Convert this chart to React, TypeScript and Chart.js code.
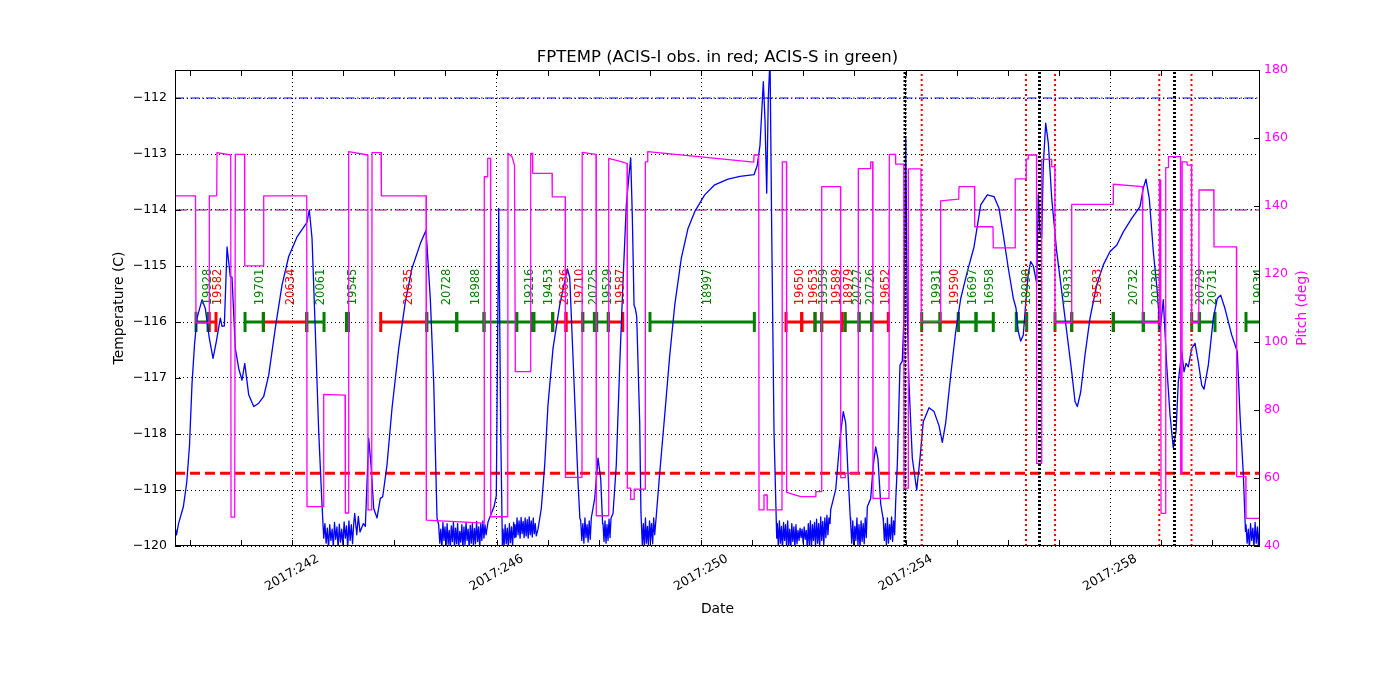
import React, { useEffect, useRef } from "react";
import { Chart, registerables } from "chart.js";
Chart.register(...registerables);

const FONT = '"DejaVu Sans", sans-serif';
const TITLE = "FPTEMP (ACIS-I obs. in red; ACIS-S in green)";
const YEAR = "2017";
const X_MIN = 239.711;
const X_MAX = 260.934;
const MAJOR_DAYS = [242, 246, 250, 254, 258];
const TEMP_MIN = -120;
const TEMP_MAX = -111.5;
const PITCH_MIN = 40;
const PITCH_MAX = 180;

const BLUE = "#0000ff";
const MAGENTA = "#ff00ff";
const RED = "#ff0000";
const GREEN = "#008000";
const PURPLE = "#800080";

// smooth part of FPTEMP (day of year, deg C)
const tempTimes = [
  239.711, 239.741, 239.78, 239.874, 239.94, 239.995, 240.044, 240.093, 240.142, 240.24, 240.304, 240.382,
  240.455, 240.519, 240.598, 240.631, 240.676, 240.729, 240.793, 240.826, 240.891, 240.957, 241.022, 241.075,
  241.153, 241.251, 241.349, 241.446, 241.544, 241.673, 241.804, 241.935, 242.098, 242.293, 242.338, 242.391,
  242.456, 242.522, 242.587,
  243.226, 243.266, 243.297, 243.33, 243.395, 243.434, 243.5, 243.545, 243.598, 243.663, 243.727, 243.774,
  243.858, 243.956, 244.087, 244.216, 244.347, 244.51, 244.621, 244.705, 244.772, 244.836,
  245.834, 245.898, 245.951, 245.996, 246.043, 246.082, 246.115,
  246.812, 246.876, 246.943, 247.007, 247.105, 247.236, 247.334, 247.385, 247.432, 247.516, 247.594, 247.63,
  247.921, 247.985, 248.038, 248.075,
  248.279, 248.343, 248.41, 248.474, 248.539, 248.586, 248.625, 248.656, 248.69, 248.715, 248.742, 248.801, 248.825,
  249.126, 249.192, 249.29, 249.388, 249.486, 249.615, 249.746, 249.877, 250.072, 250.268, 250.528, 250.763,
  251.037, 251.101, 251.154, 251.219, 251.252, 251.285, 251.316, 251.35, 251.383, 251.428, 251.481,
  252.537, 252.635, 252.719, 252.783, 252.83, 252.875, 252.92,
  253.319, 253.37, 253.417, 253.462, 253.515, 253.56,
  253.84, 253.892, 253.937, 253.971, 254.004, 254.035, 254.068, 254.133, 254.219, 254.284, 254.348, 254.46,
  254.558, 254.655, 254.72, 254.786, 254.884, 254.982, 255.08, 255.209, 255.34, 255.471, 255.6, 255.731,
  255.829, 255.913, 256.011, 256.109, 256.161, 256.206, 256.253, 256.304, 256.357, 256.402, 256.449, 256.5,
  256.566, 256.598, 256.631, 256.664, 256.695, 256.742, 256.793, 256.86, 256.957, 257.055, 257.153, 257.251,
  257.316, 257.361, 257.427, 257.511, 257.609, 257.74, 257.869, 258.0, 258.131, 258.26, 258.425, 258.587,
  258.651, 258.704, 258.769, 258.847, 258.925, 258.978, 259.043, 259.109, 259.174, 259.238, 259.291, 259.336,
  259.403, 259.448, 259.487, 259.532, 259.598, 259.663, 259.727, 259.794, 259.839, 259.923, 260.021, 260.099,
  260.165, 260.249, 260.38, 260.49, 260.543, 260.607, 260.65,
];
const tempValues = [
  -119.65, -119.8, -119.6, -119.3, -118.87, -118.2, -117.1, -116.4, -115.93, -115.6, -115.76, -116.29,
  -116.65, -116.35, -115.93, -116.08, -116.07, -114.66, -115.19, -115.2, -116.47, -116.83, -117.04, -116.74,
  -117.3, -117.51, -117.45, -117.33, -116.95, -116.11, -115.34, -114.83, -114.48, -114.22, -114.0, -114.5,
  -116.17, -117.96, -119.27,
  -119.42, -119.8, -119.47, -119.75, -119.6, -119.65, -118.08, -118.55, -119.33, -119.5, -119.15, -119.12,
  -118.55, -117.54, -116.47, -115.64, -115.04, -114.6, -114.36, -115.58, -117.1, -119.5,
  -119.57, -119.42, -119.3, -119.1, -113.97, -117.96, -119.98,
  -119.7, -119.33, -118.55, -117.48, -116.47, -115.7, -115.28, -115.05, -115.2, -117.07, -118.85, -119.5,
  -119.15, -118.43, -118.8, -119.6,
  -119.42, -118.55, -116.77, -115.28, -113.91, -113.43, -113.07, -114.1, -115.7, -115.76, -115.9, -117.8, -119.4,
  -119.45, -118.7, -117.66, -116.6, -115.7, -114.86, -114.33, -114.03, -113.73, -113.55, -113.45, -113.4,
  -113.37, -113.2, -112.84, -111.71, -112.4, -113.7, -112.0, -111.3, -114.39, -117.96, -119.86,
  -119.35, -118.99, -118.08, -117.6, -117.8, -118.7, -119.5,
  -119.15, -118.55, -118.23, -118.45, -119.25, -119.5,
  -118.55, -116.77, -116.7, -115.9, -112.69, -115.9, -117.1, -118.43, -119.0, -118.43, -117.78, -117.53,
  -117.6, -117.85, -118.15, -117.8, -116.95, -116.17, -115.58, -115.1, -114.66, -113.91, -113.73, -113.76,
  -113.97, -114.45, -115.04, -115.58, -115.75, -116.17, -116.34, -116.23, -115.6, -115.13, -114.92, -115.0,
  -115.3, -113.73, -114.4, -114.5, -113.2, -112.45, -112.8, -113.79, -114.74, -115.45, -116.17, -116.89,
  -117.42, -117.51, -117.25, -116.59, -115.93, -115.34, -114.98, -114.74, -114.63, -114.39, -114.15, -113.94,
  -113.61, -113.45, -113.8, -114.74, -115.46, -116.17, -115.6, -116.77, -117.66, -118.25, -117.96, -117.07,
  -116.53, -116.89, -116.74, -116.8, -116.47, -116.38, -116.71, -117.13, -117.2, -116.77, -115.93, -115.58,
  -115.52, -115.76, -116.23, -116.53, -117.66, -118.7, -119.74,
];

// noisy stretches near the cold limit (start day, end day) and their samples
const noiseSpans = [
  [242.62, 243.207], [244.869, 245.795], [246.127, 246.356], [246.362, 246.778], [247.647, 247.854],
  [248.083, 248.24], [248.832, 249.094], [251.493, 252.523], [252.928, 253.253], [253.566, 253.808],
  [260.66, 260.95],
];
const noise1 = [-119.86, -119.6, -119.95, -119.68, -120.05, -119.62, -119.9, -119.7, -120.02, -119.58, -119.88, -119.66, -120.04, -119.61, -119.93, -119.7, -119.99, -119.57, -119.86, -119.64, -120.03, -119.55, -119.9, -119.62, -119.96, -119.6];
const noise2 = [-119.62, -119.95, -119.7, -120.05, -119.58, -119.9, -119.66, -120.02, -119.6, -119.97, -119.72, -120.05, -119.64, -119.92, -119.57, -120.03, -119.68, -119.96, -119.6, -120.05, -119.74, -119.93, -119.62, -120.04, -119.66, -119.98, -119.58, -119.9, -119.7, -120.05, -119.63, -119.95, -119.6, -120.02, -119.69, -119.96, -119.56, -119.92, -119.66, -120.04, -119.6, -119.9, -119.55, -119.86, -119.62, -119.8];
const noise3 = [-119.7, -120.02, -119.62, -119.96, -119.68, -120.05, -119.6, -119.94, -119.66, -120.0, -119.58, -119.85];
const noise4 = [-119.62, -119.84, -119.5, -119.8, -119.55, -119.86, -119.49, -119.78, -119.56, -119.85, -119.5, -119.82, -119.53, -119.86, -119.48, -119.8, -119.55, -119.84, -119.5, -119.78, -119.6, -119.82];
const noise5 = [-119.55, -119.9, -119.6, -119.95, -119.5, -119.85, -119.62, -119.93, -119.55, -119.88, -119.5];
const noise6 = [-119.6, -119.92, -119.55, -119.95, -119.62, -119.9, -119.52, -119.85, -119.5];
const noise7 = [-119.55, -119.98, -119.6, -120.05, -119.5, -119.95, -119.65, -120.02, -119.55, -119.9, -119.6, -119.96, -119.5, -119.8];
const noise8 = [-119.6, -120.02, -119.55, -119.95, -119.65, -120.05, -119.58, -119.9, -119.62, -120.04, -119.55, -119.98, -119.7, -120.05, -119.6, -119.92, -119.66, -120.03, -119.62, -119.96, -119.72, -119.9, -119.68, -119.85, -119.7, -119.95, -119.66, -119.88, -119.72, -120.04, -119.6, -119.98, -119.55, -120.05, -119.62, -119.9, -119.58, -120.02, -119.52, -119.95, -119.6, -120.04, -119.48, -119.9, -119.56, -119.98, -119.5, -119.85, -119.45, -119.8, -119.5, -119.6];
const noise9 = [-119.6, -119.95, -119.55, -120.02, -119.65, -119.9, -119.5, -119.98, -119.62, -120.04, -119.55, -119.92, -119.6, -119.96, -119.5, -119.85, -119.3];
const noise10 = [-119.55, -119.9, -119.6, -120.0, -119.5, -119.95, -119.62, -119.88, -119.48, -119.92, -119.55, -119.8, -119.2];
const noise11 = [-119.62, -119.95, -119.7, -120.05, -119.6, -119.9, -119.68, -120.02, -119.58, -119.95, -119.66, -120.05, -119.6, -119.9];
const noiseSets = [noise1, noise2, noise3, noise4, noise5, noise6, noise7, noise8, noise9, noise10, noise11];

// pitch (deg)
const pitchTimes = [
  239.711, 240.112, 240.122, 240.377, 240.382, 240.527, 240.533, 240.801, 240.807, 240.879, 240.891, 241.071,
  241.075, 241.443, 241.446, 242.288, 242.293, 242.616, 242.62, 243.037, 243.043, 243.105, 243.109, 243.483,
  243.487, 243.559, 243.565, 243.741, 243.747, 244.621, 244.627, 245.756, 245.761, 245.824, 245.828, 245.883,
  245.887, 246.219, 246.225, 246.303, 246.352, 246.368, 246.665, 246.669, 246.704, 246.708, 247.086, 247.09,
  247.344, 247.348, 247.672, 247.676, 247.946, 247.952, 248.191, 248.195, 248.455, 248.553, 248.559, 248.621,
  248.625, 248.69, 248.693, 248.905, 248.911, 248.954, 248.958, 251.031, 251.037, 251.129, 251.135, 251.228,
  251.232, 251.291, 251.295, 251.584, 251.59, 251.672, 251.676, 251.95, 252.244, 252.247, 252.357, 252.361,
  252.729, 252.733, 252.817, 252.821, 253.071, 253.077, 253.315, 253.319, 253.358, 253.364, 253.677, 253.683,
  253.804, 253.808, 253.967, 253.971, 254.049, 254.055, 254.303, 254.309, 254.685, 254.688, 255.041, 255.047,
  255.35, 255.354, 255.711, 255.717, 256.142, 256.146, 256.357, 256.361, 256.396, 256.402, 256.562, 256.566,
  256.66, 256.664, 256.856, 256.86, 256.92, 256.924, 257.247, 257.251, 258.059, 258.065, 258.636, 258.64,
  258.964, 258.968, 258.992, 258.998, 259.086, 259.09, 259.14, 259.144, 259.379, 259.383, 259.408, 259.412,
  259.506, 259.512, 259.594, 259.598, 259.737, 259.741, 260.03, 260.034, 260.474, 260.478, 260.656, 260.66,
  260.934,
];
const pitchValues = [
  143, 143, 105.6, 105.6, 143, 143, 155.7, 155, 48.5, 48.5, 155.2, 155.2,
  122.4, 122.4, 143, 143, 51.6, 51.6, 84.6, 84.4, 49.7, 49.7, 156, 155,
  50.6, 50.6, 155.7, 155.7, 143, 143, 47.6, 46.7, 148.6, 148.6, 154, 154,
  48.6, 48.6, 155.5, 154.5, 152, 91.3, 91.3, 155.5, 155.5, 149.6, 149.6, 142.7,
  142.7, 60.2, 60.2, 155.8, 155.2, 48.9, 48.9, 154, 153, 152.5, 57, 57,
  53.7, 53.7, 56.7, 56.7, 153, 153, 156, 152.9, 155, 155, 50.6, 50.6,
  55, 55, 50.6, 50.6, 153, 153, 55.8, 54.5, 54.5, 56, 56, 145.7,
  145.7, 60.1, 60.1, 61.4, 61.4, 151, 151, 153, 153, 54, 54, 155.2,
  155.2, 152.3, 152.3, 57, 57, 150.9, 150.9, 106, 106, 141.5, 142, 145.7,
  145.7, 133.9, 133.9, 127.7, 127.7, 148, 148, 153.8, 153.8, 155, 155, 64.3,
  64.3, 153.7, 153.7, 151.6, 151.6, 105.8, 105.8, 140.5, 140.5, 146.4, 145.7, 105.8,
  105.8, 147.6, 147.6, 49.6, 49.6, 151.3, 151.3, 154.5, 154.5, 61.4, 61.4, 153,
  153, 152, 152, 105.8, 105.8, 144.7, 144.7, 128, 128, 60.4, 60.4, 48.1,
  48.1,
];

// observations
const obsIds = ["19928", "19582", "19701", "20634", "20061", "19545", "20635", "20728", "18988", "", "19216", "19453", "20636", "19710", "20725", "19529", "19587", "18997", "19650", "19653", "19359", "19589", "18979", "20727", "20726", "19652", "19931", "19590", "16697", "16958", "18998", "19933", "19583", "20732", "20730", "20729", "20731", "19034"];
const obsInstr = ["S", "I", "S", "I", "S", "S", "I", "S", "S", "S", "S", "S", "I", "I", "S", "S", "I", "S", "I", "I", "S", "I", "I", "S", "S", "I", "S", "I", "S", "S", "S", "S", "I", "S", "S", "S", "S", "S"];
const obsStart = [240.122, 240.382, 241.081, 241.439, 242.288, 243.066, 243.735, 244.635, 245.222, 245.756, 246.395, 246.733, 247.099, 247.359, 247.686, 247.96, 248.187, 249.002, 251.663, 251.97, 252.23, 252.361, 252.752, 252.817, 253.091, 253.339, 254.317, 254.675, 255.033, 255.379, 256.167, 256.924, 257.251, 258.065, 258.651, 259.598, 259.747, 260.66];
const obsStop = [240.357, 240.513, 241.439, 242.288, 242.626, 243.105, 244.635, 245.222, 245.756, 246.395, 246.689, 247.099, 247.359, 247.686, 247.913, 248.187, 248.469, 251.043, 251.97, 252.23, 252.361, 252.752, 252.817, 253.091, 253.339, 253.664, 254.675, 255.033, 255.379, 255.717, 256.371, 257.251, 258.065, 258.651, 258.964, 259.747, 260.054, 261.3];

const radZoneTimes = [254.317, 256.357, 256.924, 258.964, 259.594];
const perigeeTimes = [253.99, 256.621, 259.262];

const PLANNING_LIMIT = -118.7;
const UPPER_LIMIT = -112;
const MID_LIMIT = -114;
const OBS_LEVEL = -116;
const OBS_LABEL_LEVEL = -115.7;

type P = { x: number; y: number | null };

function buildTemp(): P[] {
  const pts: P[] = tempTimes.map((t, i) => ({ x: t, y: tempValues[i] }));
  noiseSpans.forEach(([s, e], k) => {
    const vals = noiseSets[k];
    const n = vals.length;
    vals.forEach((v, i) => pts.push({ x: s + ((e - s) * i) / (n - 1), y: v }));
  });
  pts.sort((a, b) => a.x - b.x);
  return pts;
}

function buildObs(instr: string): P[] {
  const pts: P[] = [];
  obsIds.forEach((_, i) => {
    if (obsInstr[i] !== instr) return;
    pts.push({ x: obsStart[i], y: OBS_LEVEL }, { x: obsStop[i], y: OBS_LEVEL }, { x: obsStop[i], y: null });
  });
  return pts;
}

function buildVerticals(times: number[]): P[] {
  const pts: P[] = [];
  times.forEach((t) => pts.push({ x: t, y: TEMP_MIN }, { x: t, y: TEMP_MAX }, { x: t, y: null }));
  return pts;
}

const minus = (v: number) => (v < 0 ? "\u2212" + Math.abs(v) : String(v));
const TEMP_INDEX = 2;

const decorPlugin = {
  id: "decor",
  afterDatasetDraw(chart: any, args: any) {
    if (args.index !== TEMP_INDEX) return;
    const { ctx, chartArea: a, scales } = chart;
    const xs = scales.x;
    const yT = scales.y;
    ctx.save();
    ctx.beginPath();
    ctx.rect(a.left, a.top, a.right - a.left, a.bottom - a.top);
    ctx.clip();
    ctx.font = `11.5px ${FONT}`;
    ctx.textAlign = "left";
    ctx.textBaseline = "top";
    const yl = yT.getPixelForValue(OBS_LABEL_LEVEL);
    obsIds.forEach((id, i) => {
      if (!id) return;
      const s = Math.max(obsStart[i], X_MIN);
      const e = Math.min(obsStop[i], X_MAX);
      const xm = xs.getPixelForValue((s + e) / 2);
      ctx.save();
      ctx.translate(xm, yl);
      ctx.rotate(-Math.PI / 2);
      ctx.fillStyle = obsInstr[i] === "I" ? RED : GREEN;
      ctx.fillText(id, 0, 0);
      ctx.restore();
    });
    ctx.restore();
  },
  afterDraw(chart: any) {
    const { ctx, chartArea: a, scales } = chart;
    const xs = scales.x;
    const yT = scales.y;
    const yP = scales.yP;
    ctx.save();
    ctx.strokeStyle = "#000";
    ctx.lineWidth = 1;
    ctx.setLineDash([]);
    ctx.strokeRect(a.left + 0.5, a.top + 0.5, a.right - a.left - 1, a.bottom - a.top - 1);
    const TL = 6;
    ctx.beginPath();
    for (let d = Math.ceil(X_MIN); d <= Math.floor(X_MAX); d++) {
      const px = Math.round(xs.getPixelForValue(d)) + 0.5;
      ctx.moveTo(px, a.bottom);
      ctx.lineTo(px, a.bottom - TL);
      ctx.moveTo(px, a.top);
      ctx.lineTo(px, a.top + TL);
    }
    for (let v = TEMP_MIN; v <= -112; v += 1) {
      const py = Math.round(yT.getPixelForValue(v)) + 0.5;
      ctx.moveTo(a.left, py);
      ctx.lineTo(a.left + TL, py);
    }
    ctx.stroke();
    ctx.strokeStyle = "#000";
    ctx.beginPath();
    for (let v = PITCH_MIN; v <= PITCH_MAX; v += 20) {
      const py = Math.round(yP.getPixelForValue(v)) + 0.5;
      ctx.moveTo(a.right, py);
      ctx.lineTo(a.right - TL, py);
    }
    ctx.stroke();

    // x tick labels
    ctx.fillStyle = "#000";
    ctx.font = `12.5px ${FONT}`;
    ctx.textAlign = "center";
    ctx.textBaseline = "middle";
    MAJOR_DAYS.forEach((d) => {
      const px = xs.getPixelForValue(d);
      ctx.save();
      ctx.translate(px, a.bottom + 27);
      ctx.rotate(-Math.PI / 6);
      ctx.fillText(`${YEAR}:${d}`, 0, 0);
      ctx.restore();
    });

    // title
    ctx.font = `16.5px ${FONT}`;
    ctx.textBaseline = "alphabetic";
    ctx.fillText(TITLE, (a.left + a.right) / 2, a.top - 8);

    // axis titles
    ctx.font = `13.9px ${FONT}`;
    ctx.textBaseline = "middle";
    ctx.fillText("Date", (a.left + a.right) / 2, a.bottom + 63);
    const cy = (a.top + a.bottom) / 2;
    ctx.save();
    ctx.translate(a.left - 56, cy);
    ctx.rotate(-Math.PI / 2);
    ctx.fillText("Temperature (C)", 0, 0);
    ctx.restore();
    ctx.save();
    ctx.translate(a.right + 42, cy);
    ctx.rotate(-Math.PI / 2);
    ctx.fillStyle = MAGENTA;
    ctx.fillText("Pitch (deg)", 0, 0);
    ctx.restore();
    ctx.restore();
  },
};

export default function App() {
  const ref = useRef<HTMLCanvasElement | null>(null);
  useEffect(() => {
    if (!ref.current) return;
    const flat = (v: number) => [{ x: X_MIN, y: v }, { x: X_MAX, y: v }];
    const chart = new Chart(ref.current, {
      type: "line",
      data: {
        datasets: [
          {
            label: "pitch", data: pitchTimes.map((t, i) => ({ x: t, y: pitchValues[i] })), yAxisID: "yP",
            borderColor: MAGENTA, borderWidth: 1.3, pointRadius: 0, borderJoinStyle: "round", order: 0,
          } as any,
          {
            label: "verticals-black", data: buildVerticals(perigeeTimes), yAxisID: "y",
            borderColor: "#000", borderWidth: 3, borderDash: [2, 2], pointRadius: 0, order: 1,
          },
          {
            label: "fptemp", data: buildTemp(), yAxisID: "y",
            borderColor: BLUE, borderWidth: 1.3, pointRadius: 0, borderJoinStyle: "round", order: 2,
          } as any,
          {
            label: "verticals-red", data: buildVerticals(radZoneTimes), yAxisID: "y",
            borderColor: RED, borderWidth: 2, borderDash: [2, 3], pointRadius: 0, order: 1,
          },
          {
            label: "planning", data: flat(PLANNING_LIMIT), yAxisID: "y",
            borderColor: RED, borderWidth: 3, borderDash: [10, 5], pointRadius: 0, order: 3,
          },
          {
            label: "upper", data: flat(UPPER_LIMIT), yAxisID: "y",
            borderColor: BLUE, borderWidth: 1, borderDash: [9, 2.5, 1.5, 2.5], pointRadius: 0, order: 3,
          },
          {
            label: "mid", data: flat(MID_LIMIT), yAxisID: "y",
            borderColor: PURPLE, borderWidth: 1.2, borderDash: [12, 3, 2, 3], pointRadius: 0, order: 3,
          },
          {
            label: "obs-S", data: buildObs("S"), yAxisID: "y",
            borderColor: GREEN, borderWidth: 3, pointStyle: "line", pointRotation: 90, pointRadius: 10,
            pointBorderWidth: 3, pointBorderColor: GREEN, pointBackgroundColor: GREEN, order: 4,
          } as any,
          {
            label: "obs-I", data: buildObs("I"), yAxisID: "y",
            borderColor: RED, borderWidth: 3, pointStyle: "line", pointRotation: 90, pointRadius: 10,
            pointBorderWidth: 3, pointBorderColor: RED, pointBackgroundColor: RED, order: 4,
          } as any,
        ],
      },
      options: {
        responsive: false,
        animation: false,
        devicePixelRatio: 1,
        events: [],
        layout: { padding: { top: 70, left: 0, right: 0, bottom: 0 } },
        plugins: { legend: { display: false }, tooltip: { enabled: false }, title: { display: false } },
        scales: {
          x: {
            type: "linear", min: X_MIN, max: X_MAX,
            ticks: { stepSize: 1, display: false, includeBounds: false, autoSkip: false },
            grid: {
              drawTicks: false, lineWidth: 1,
              color: (c: any) => {
                const v = c.tick ? c.tick.value : NaN;
                return MAJOR_DAYS.some((d) => Math.abs(d - v) < 1e-6) ? "#000" : "rgba(0,0,0,0)";
              },
            },
            border: { display: false, dash: [1, 3] },
            afterFit: (s: any) => { s.height = 154; },
          },
          y: {
            type: "linear", position: "left", min: TEMP_MIN, max: TEMP_MAX,
            ticks: { stepSize: 1, includeBounds: false, color: "#000", padding: 8, font: { family: FONT, size: 12.5 }, callback: (v: any) => minus(Number(v)) },
            grid: { drawTicks: false, color: "#000", lineWidth: 1 },
            border: { display: false, dash: [1, 3] },
            afterFit: (s: any) => { s.width = 175; },
          },
          yP: {
            type: "linear", position: "right", min: PITCH_MIN, max: PITCH_MAX,
            ticks: { stepSize: 20, includeBounds: false, color: MAGENTA, padding: 4, font: { family: FONT, size: 12.5 } },
            grid: { display: false, drawTicks: false },
            border: { display: false },
            afterFit: (s: any) => { s.width = 140; },
          },
        },
      } as any,
      plugins: [decorPlugin],
    });
    return () => chart.destroy();
  }, []);
  return (
    <div style={{ position: "fixed", left: 0, top: 0, width: 1400, height: 700, background: "#fff" }}>
      <canvas ref={ref} width={1400} height={700} style={{ display: "block" }} />
    </div>
  );
}
